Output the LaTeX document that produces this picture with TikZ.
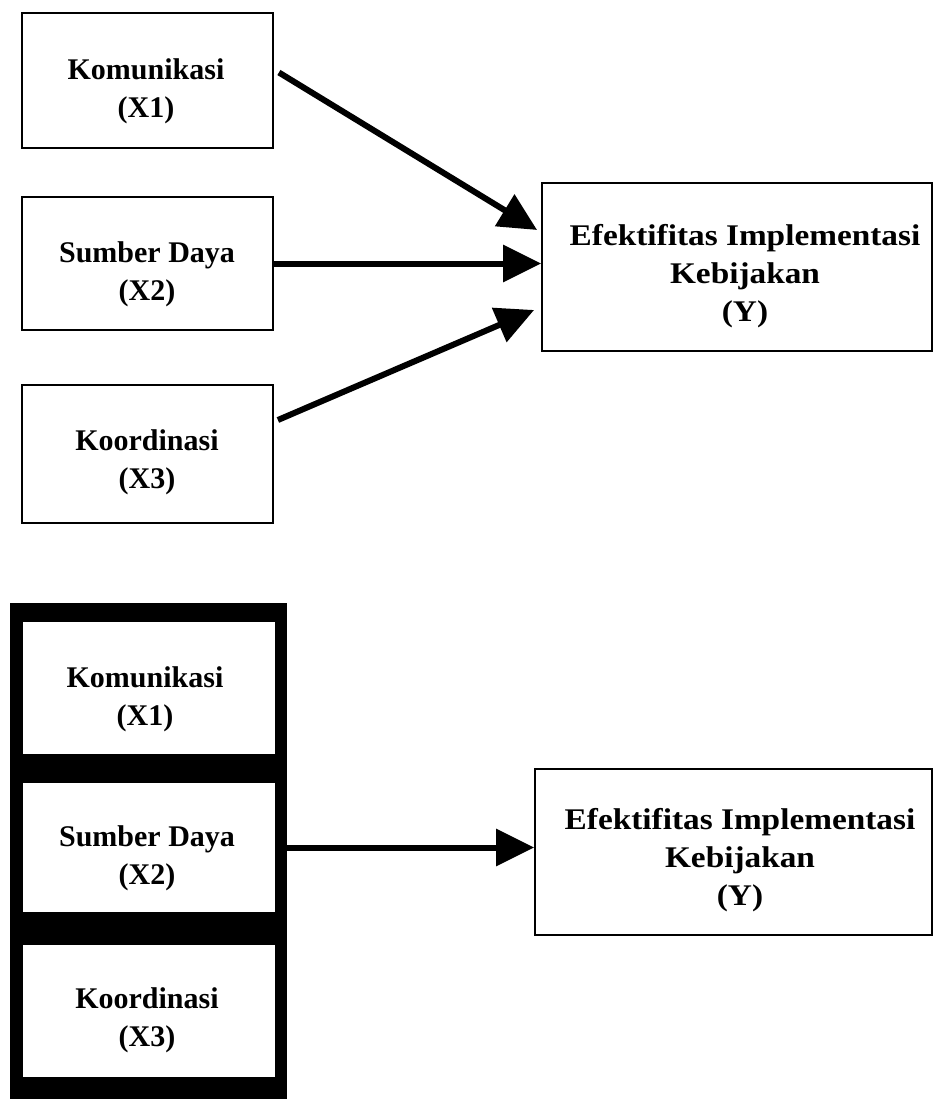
\documentclass[tikz,border=0pt]{standalone}
\usepackage{fontspec}
\setmainfont{Liberation Serif}
\newfontfamily\widefont[FakeStretch=1.11]{Liberation Serif}
\usetikzlibrary{arrows.meta}
\begin{document}
\begin{tikzpicture}[x=1pt,y=-1pt,
  varbox/.style={draw=black, line width=1.8pt, fill=white, inner sep=0pt},
  lbl/.style={font=\fontsize{30pt}{38pt}\selectfont\bfseries, align=center, inner sep=0pt},
  widelbl/.style={font=\widefont\fontsize{30pt}{38pt}\selectfont\bfseries, align=center, inner sep=0pt},
  arr/.style={line width=6pt, -{Triangle[length=38pt,width=36pt]}}]
\useasboundingbox (0,0) rectangle (934,1099);

% --- upper model: three separate influences ---
\node[varbox, minimum width=251pt, minimum height=135pt] (x1) at (147.5,80.5) {};
\node[lbl] (x1t) at (146,91) {Komunikasi\\(X1)};
\node[varbox, minimum width=251pt, minimum height=133pt] (x2) at (147.5,263.5) {};
\node[lbl] (x2t) at (147,274) {Sumber Daya\\(X2)};
\node[varbox, minimum width=251pt, minimum height=138pt] (x3) at (147.5,454) {};
\node[lbl] (x3t) at (147,462) {Koordinasi\\(X3)};
\node[varbox, minimum width=390pt, minimum height=168pt] (y) at (737,267) {};
\node[widelbl] (yt) at (745,276) {Efektifitas Implementasi\\Kebijakan\\(Y)};

\draw[arr] ([xshift=5pt,yshift=8pt]x1.east) -- ([xshift=-4pt,yshift=37pt]y.west);
\draw[arr] (x2.east) -- (x2.east -| y.west);
\draw[arr] ([xshift=4pt,yshift=34pt]x3.east) -- ([xshift=-7pt,yshift=-43pt]y.west);

% --- lower model: joint influence ---
\node[fill=black, inner sep=0pt, minimum width=277pt, minimum height=496pt, anchor=north west] (frame) at (10,603) {};
\node[fill=white, inner sep=0pt, minimum width=252pt, minimum height=132pt] (b1) at (149,688) {};
\node[lbl] (b1t) at (145,699) {Komunikasi\\(X1)};
\node[fill=white, inner sep=0pt, minimum width=252pt, minimum height=129pt] (b2) at (149,847.5) {};
\node[lbl] (b2t) at (147,858) {Sumber Daya\\(X2)};
\node[fill=white, inner sep=0pt, minimum width=252pt, minimum height=132pt] (b3) at (149,1011) {};
\node[lbl] (b3t) at (147,1020) {Koordinasi\\(X3)};
\node[varbox, minimum width=397pt, minimum height=166pt] (y2) at (733.5,852) {};
\node[widelbl] (y2t) at (740,860) {Efektifitas Implementasi\\Kebijakan\\(Y)};

\draw[arr] (frame.east |- b2.center) -- (b2.center -| y2.west);
\end{tikzpicture}
\end{document}
